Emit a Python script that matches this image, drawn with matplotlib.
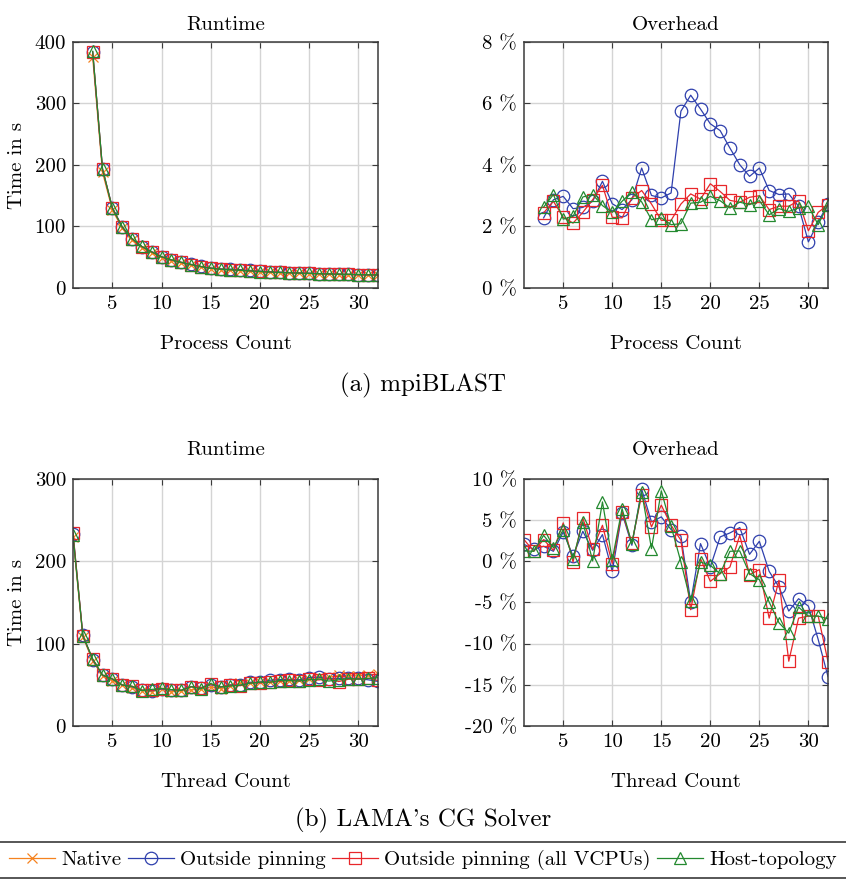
import matplotlib
matplotlib.use("Agg")
import matplotlib.pyplot as plt
from matplotlib.lines import Line2D
from matplotlib.ticker import FuncFormatter, MultipleLocator

plt.rcParams.update({"font.family": ["cmr10", "DejaVu Serif"], "mathtext.fontset": "cm",
                     "axes.unicode_minus": False, "font.size": 15})

ORANGE = "#f5821f"; BLUE = "#2f40ad"; RED = "#e8262a"; GREEN = "#23892f"; GRID = "#d4d4d4"; AX = "#3a3a3a"

# (a) mpiBLAST, process count 3..32
blast_x = list(range(3, 33))
blast_native = [375, 188, 127, 97, 78, 65.5, 57, 49.5, 44.5, 40.5, 37, 34, 31.5, 30, 29, 28, 27, 26, 25.3, 24.7,
                24.1, 23.6, 23.1, 22.7, 22.3, 21.9, 21.6, 21.3, 21.0, 20.8]
blast_pin = [383.6, 193.4, 130.8, 99.5, 80.0, 67.3, 59.0, 50.9, 45.6, 41.7, 38.4, 35.0, 32.4, 30.9, 30.7, 29.8,
             28.6, 27.4, 26.6, 25.8, 25.1, 24.5, 24.0, 23.4, 23.0, 22.6, 22.2, 21.6, 21.4, 21.4]
blast_pin_all = [384.2, 193.3, 129.9, 99.0, 79.9, 67.4, 58.9, 50.6, 45.5, 41.7, 38.2, 34.9, 32.2, 30.7, 29.8, 28.9,
                 27.8, 26.9, 26.1, 25.4, 24.8, 24.3, 23.8, 23.3, 22.9, 22.5, 22.2, 21.7, 21.5, 21.4]
blast_host = [384.9, 193.7, 129.8, 99.3, 80.3, 67.5, 58.5, 50.7, 45.8, 41.8, 38.0, 34.8, 32.2, 30.6, 29.6, 28.8,
              27.8, 26.8, 26.0, 25.3, 24.8, 24.2, 23.8, 23.2, 22.9, 22.4, 22.2, 21.9, 21.4, 21.4]
blast_ov_pin = [2.28, 2.87, 2.98, 2.58, 2.62, 2.82, 3.47, 2.74, 2.55, 2.87, 3.9, 3.01, 2.93, 3.09, 5.75, 6.27, 5.82,
                5.34, 5.12, 4.55, 4.01, 3.63, 3.9, 3.17, 3.04, 3.06, 2.66, 1.5, 2.14, 2.74]
blast_ov_pin_all = [2.44, 2.82, 2.3, 2.11, 2.46, 2.87, 3.34, 2.3, 2.28, 2.93, 3.17, 2.73, 2.2, 2.2, 2.73, 3.06, 2.89,
                    3.39, 3.14, 2.85, 2.79, 2.95, 3.0, 2.55, 2.66, 2.66, 2.84, 1.86, 2.46, 2.71]
blast_ov_host = [2.63, 3.04, 2.24, 2.33, 2.96, 3.04, 2.68, 2.46, 2.82, 3.12, 2.8, 2.22, 2.28, 2.06, 2.09, 2.76, 2.79,
                 2.98, 2.84, 2.6, 2.79, 2.71, 2.84, 2.38, 2.58, 2.49, 2.6, 2.66, 2.06, 2.71]

# (b) LAMA's CG solver, thread count 1..32
lama_x = list(range(1, 33))
lama_native = [229, 108.5, 79, 61, 55, 49.5, 46, 43, 41.5, 45.5, 41.5, 42.5, 44, 44.5, 47.5, 45.5, 48.5, 52, 52,
               53.5, 54, 54.5, 54.5, 55.5, 57.5, 60, 59, 61.5, 61, 61, 62, 63]
lama_pin = [233.7, 110.1, 80.4, 61.7, 57.0, 49.8, 47.7, 43.6, 42.8, 44.9, 43.9, 43.3, 47.9, 46.6, 50.1, 47.3, 50.0,
            49.4, 53.1, 53.1, 55.6, 56.4, 56.7, 56.0, 58.9, 59.3, 57.2, 57.8, 58.2, 57.7, 56.1, 54.2]
lama_pin_all = [235.0, 109.8, 81.1, 61.8, 57.6, 49.5, 48.4, 43.6, 43.3, 45.4, 44.0, 43.4, 47.6, 46.4, 50.7, 47.5,
                49.7, 48.9, 52.2, 52.2, 53.2, 54.1, 56.2, 54.6, 56.9, 55.9, 57.6, 54.0, 56.8, 56.9, 57.9, 55.3]
lama_host = [231.9, 109.8, 81.5, 62.0, 57.1, 49.7, 48.2, 43.0, 44.5, 45.6, 44.2, 43.4, 47.7, 45.2, 51.6, 47.4, 48.5,
             49.5, 52.0, 53.2, 53.2, 55.2, 55.2, 54.7, 56.2, 57.0, 54.6, 56.1, 57.6, 56.9, 57.9, 58.6]
lama_ov_pin = [2.07, 1.46, 1.83, 1.22, 3.57, 0.65, 3.65, 1.34, 3.25, -1.22, 5.88, 1.95, 8.76, 4.79, 5.4, 3.85, 3.08,
               -4.95, 2.15, -0.69, 2.96, 3.45, 4.1, 0.85, 2.43, -1.22, -3.12, -6.04, -4.54, -5.44, -9.49, -14.0]
lama_ov_pin_all = [2.64, 1.22, 2.64, 1.34, 4.67, -0.08, 5.27, 1.46, 4.38, -0.28, 6.0, 2.23, 8.11, 4.18, 6.82, 4.38,
                   2.56, -5.88, 0.32, -2.43, -1.5, -0.69, 3.16, -1.62, -1.01, -6.9, -2.31, -12.13, -6.9, -6.65,
                   -6.65, -12.17]
lama_ov_host = [1.26, 1.22, 3.16, 1.66, 3.85, 0.32, 4.79, 0.04, 7.22, 0.2, 6.41, 2.15, 8.44, 1.54, 8.56, 4.26, -0.08,
                -4.87, -0.08, -0.49, -1.5, 1.22, 1.26, -1.5, -2.23, -4.95, -7.46, -8.72, -5.56, -6.65, -6.65, -6.98]

STY = {"native": dict(color=ORANGE, marker="x", ms=7),
       "pin": dict(color=BLUE, marker="o", ms=9, mfc="none"),
       "pin_all": dict(color=RED, marker="s", ms=9, mfc="none"),
       "host": dict(color=GREEN, marker="^", ms=8.5, mfc="none")}
LABELS = {"native": "Native", "pin": "Outside pinning", "pin_all": "Outside pinning (all VCPUs)",
          "host": "Host-topology"}

W, H = 846, 880
fig = plt.figure(figsize=(W / 100, H / 100), dpi=100)

def mkax(l, t, r, b):
    ax = fig.add_axes([l / W, 1 - b / H, (r - l) / W, (b - t) / H])
    ax.set_xlim(1, 32); ax.xaxis.set_major_locator(MultipleLocator(5))
    ax.grid(color=GRID, lw=1); ax.set_axisbelow(True)
    ax.tick_params(direction="in", top=True, right=True, length=4, width=0.8, color=AX, pad=5, labelsize=15)
    for s in ax.spines.values(): s.set_color(AX); s.set_linewidth(1.1)
    return ax

def draw(ax, x, series):
    for key, y in series:
        ax.plot(x, y, lw=0.9, mew=0.9, **STY[key])

pct = FuncFormatter(lambda v, p: f"{v:.0f} %")

ax = mkax(73, 42, 378, 288)
draw(ax, blast_x, [("native", blast_native), ("pin", blast_pin), ("pin_all", blast_pin_all), ("host", blast_host)])
ax.set_ylim(0, 400); ax.yaxis.set_major_locator(MultipleLocator(100))
ax.set_title("Runtime", fontsize=15, pad=9); ax.set_ylabel("Time in s", fontsize=15)
ax.yaxis.set_label_coords(-0.155, 0.5)
ax.set_xlabel("Process Count", fontsize=15); ax.xaxis.set_label_coords(0.5, -0.19)

ax = mkax(524, 42, 828, 288)
draw(ax, blast_x, [("pin", blast_ov_pin), ("pin_all", blast_ov_pin_all), ("host", blast_ov_host)])
ax.set_ylim(0, 8); ax.yaxis.set_major_locator(MultipleLocator(2)); ax.yaxis.set_major_formatter(pct)
ax.set_title("Overhead", fontsize=15, pad=9)
ax.set_xlabel("Process Count", fontsize=15); ax.xaxis.set_label_coords(0.5, -0.19)

ax = mkax(73, 479, 378, 726)
draw(ax, lama_x, [("native", lama_native), ("pin", lama_pin), ("pin_all", lama_pin_all), ("host", lama_host)])
ax.set_ylim(0, 300); ax.yaxis.set_major_locator(MultipleLocator(100))
ax.set_title("Runtime", fontsize=15, pad=17); ax.set_ylabel("Time in s", fontsize=15)
ax.yaxis.set_label_coords(-0.155, 0.5)
ax.set_xlabel("Thread Count", fontsize=15); ax.xaxis.set_label_coords(0.5, -0.19)

ax = mkax(524, 479, 828, 726)
draw(ax, lama_x, [("pin", lama_ov_pin), ("pin_all", lama_ov_pin_all), ("host", lama_ov_host)])
ax.set_ylim(-20, 10); ax.yaxis.set_major_locator(MultipleLocator(5)); ax.yaxis.set_major_formatter(pct)
ax.set_title("Overhead", fontsize=15, pad=17)
ax.set_xlabel("Thread Count", fontsize=15); ax.xaxis.set_label_coords(0.5, -0.19)

fig.text(0.5, 1 - 385 / H, "(a) mpiBLAST", ha="center", va="center", fontsize=18)
fig.text(0.5, 1 - 820 / H, "(b) LAMA's CG Solver", ha="center", va="center", fontsize=18)

handles = [Line2D([], [], lw=0.9, mew=0.9, **STY[k]) for k in LABELS]
fig.legend(handles, list(LABELS.values()), loc="center", bbox_to_anchor=(0.5, 1 - 860 / H), ncol=4,
           frameon=False, fontsize=15, handlelength=2.2, handletextpad=0.3, columnspacing=0.3)
for yy in (842, 878):
    fig.add_artist(Line2D([0, 1], [1 - yy / H] * 2, color=AX, lw=1.2))

fig.savefig("out.png", dpi=100, facecolor="white")
